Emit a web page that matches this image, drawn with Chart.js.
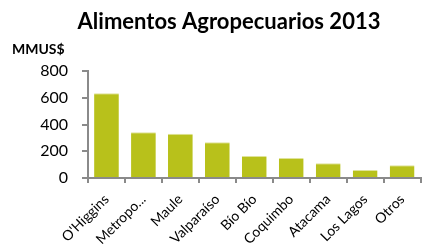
<!DOCTYPE html>
<html>
<head>
<meta charset="utf-8">
<script src="https://cdn.jsdelivr.net/npm/chart.js@4"></script>
<style>
  html, body { margin: 0; padding: 0; background: #fff; }
  #wrap { width: 422px; height: 246px; position: relative; }
</style>
</head>
<body>
<div id="wrap"><canvas id="chart"></canvas></div>
<script>
const regions = ['O\'Higgins', 'Metropo...', 'Maule', 'Valparaíso', 'Bío Bío', 'Coquimbo', 'Atacama', 'Los Lagos', 'Otros'];
const values = [633, 342, 331, 267, 164, 150, 110, 60, 95];
const yTicks = [0, 200, 400, 600, 800];

const titleText = 'Alimentos Agropecuarios 2013';
const unitText = 'MMUS$';

// title + unit label drawn on top of the canvas
const textPlugin = {
    id: 'texts',
    afterDraw(chart) {
        const c = chart.ctx;
        c.save();
        c.fillStyle = '#000';
        c.textBaseline = 'alphabetic';
        c.font = 'bold 22px Lato';
        c.textAlign = 'center';
        c.fillText(titleText, 229, 29);
        c.font = 'bold 14px Lato';
        c.textAlign = 'left';
        c.fillText(unitText, 12, 54);
        c.restore();
    }
};

const axisGrey = '#8a8a8a';

new Chart(document.getElementById('chart'), {
    type: 'bar',
    data: {
        labels: regions,
        datasets: [{
            data: values,
            backgroundColor: '#b8c11b',
            borderColor: '#dfe39a',
            borderWidth: { top: 1, left: 0, right: 0, bottom: 0 },
            borderSkipped: false,
            barPercentage: 0.67,
            categoryPercentage: 1
        }]
    },
    options: {
        responsive: true,
        maintainAspectRatio: false,
        animation: false,
        layout: { padding: { top: 71, left: 0, right: 0, bottom: 0 } },
        plugins: { legend: { display: false }, tooltip: { enabled: false } },
        scales: {
            x: {
                afterFit: s => { s.height = 68; },
                grid: { drawOnChartArea: false, color: axisGrey, tickLength: 5, lineWidth: 2 },
                border: { color: axisGrey, width: 2 },
                ticks: {
                    color: '#000',
                    font: { family: 'Lato', size: 14 },
                    maxRotation: 45, minRotation: 45,
                    autoSkip: false, padding: 8
                }
            },
            y: {
                min: 0, max: 800,
                afterFit: s => { s.width = 88; },
                afterBuildTicks: s => { s.ticks = yTicks.map(v => ({ value: v })); },
                grid: { drawOnChartArea: false, color: axisGrey, tickLength: 6, lineWidth: 2 },
                border: { color: axisGrey, width: 2 },
                ticks: {
                    color: '#000',
                    font: { family: 'Lato', size: 16 },
                    padding: 14
                }
            }
        }
    },
    plugins: [textPlugin]
});
</script>
</body>
</html>
